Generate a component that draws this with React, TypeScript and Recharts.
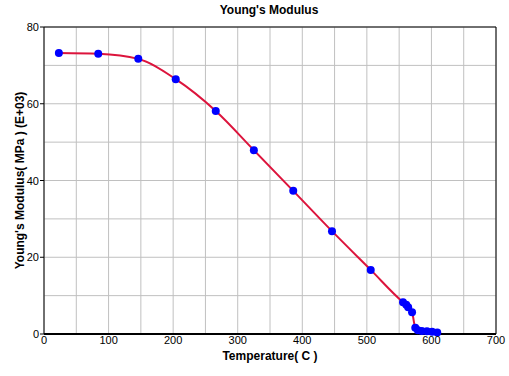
import {
  LineChart,
  Line,
  XAxis,
  YAxis,
  CartesianGrid,
  ReferenceLine,
} from 'recharts'

const temperature = [23, 84, 146, 204, 266, 325, 386, 446, 506, 556, 561, 564, 570, 575, 579, 585, 593, 601, 609]
const modulus = [73.2, 73.0, 71.7, 66.4, 58.1, 47.9, 37.3, 26.8, 16.7, 8.3, 7.6, 7.0, 5.7, 1.6, 1.0, 0.8, 0.7, 0.6, 0.4]

const xTicks = [0, 50, 100, 150, 200, 250, 300, 350, 400, 450, 500, 550, 600, 650, 700]
const yTicks = [0, 10, 20, 30, 40, 50, 60, 70, 80]

const data = temperature.map((t, i) => ({ t, e: modulus[i] }))

const font = '"Liberation Sans", Arial, sans-serif'

function XTick(props: any) {
  const { x, y, payload } = props
  if (payload.value % 100 !== 0) return null
  return (
    <text x={x} y={y + 2} textAnchor="middle" fontSize={11} fill="#000" fontFamily={font}>
      {payload.value}
    </text>
  )
}

function YTick(props: any) {
  const { x, y, payload } = props
  if (payload.value % 20 !== 0) return null
  return (
    <g>
      <line x1={x + 4} x2={x + 8} y1={y} y2={y} stroke="#000" />
      <text x={x + 3} y={y + 4} textAnchor="end" fontSize={11} fill="#000" fontFamily={font}>
        {payload.value}
      </text>
    </g>
  )
}

function Dot(props: any) {
  const { cx, cy } = props
  return <circle cx={cx} cy={cy} r={4} fill="#0000ff" />
}

export default function App() {
  return (
    <div style={{ position: 'absolute', left: 0, top: 0, width: 509, height: 376, background: '#fff' }}>
      <div
        style={{
          position: 'absolute',
          top: 3,
          left: 0,
          width: 538,
          textAlign: 'center',
          fontFamily: font,
          fontWeight: 'bold',
          fontSize: 12,
        }}
      >
        Young's Modulus
      </div>
      <LineChart
        width={509}
        height={376}
        data={data}
        margin={{ top: 27, right: 13, left: 0, bottom: 12 }}
      >
        <CartesianGrid stroke="#c0c0c0" horizontal vertical />
        <XAxis
          dataKey="t"
          type="number"
          domain={[0, 700]}
          ticks={xTicks}
          interval={0}
          tick={<XTick />}
          tickLine={false}
          axisLine={{ stroke: '#000', strokeWidth: 2 }}
          height={30}
          label={{
            value: 'Temperature( C )',
            position: 'insideBottom',
            offset: 4,
            style: { fontFamily: font, fontWeight: 'bold', fontSize: 12, fill: '#000' },
          }}
        />
        <YAxis
          type="number"
          domain={[0, 80]}
          ticks={yTicks}
          interval={0}
          tick={<YTick />}
          tickLine={false}
          axisLine={{ stroke: '#000', strokeWidth: 1 }}
          width={44}
          label={{
            value: "Young's Modulus( MPa ) (E+03)",
            angle: -90,
            position: 'insideLeft',
            offset: 20,
            style: { textAnchor: 'middle', fontFamily: font, fontWeight: 'bold', fontSize: 12, fill: '#000' },
          }}
        />
        <ReferenceLine y={80} stroke="#000" />
        <ReferenceLine x={700} stroke="#000" />
        <Line
          dataKey="e"
          type="monotone"
          stroke="#dc143c"
          strokeWidth={2}
          dot={<Dot />}
          isAnimationActive={false}
        />
      </LineChart>
    </div>
  )
}
